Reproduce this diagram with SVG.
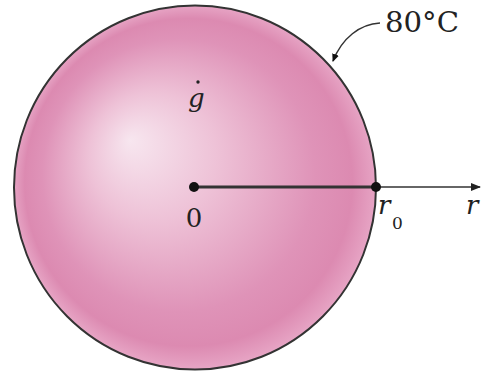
<svg xmlns="http://www.w3.org/2000/svg" width="489" height="373" viewBox="0 0 489 373">
<style>
text{font-family:'DejaVu Serif',serif;fill:#222}
.i{font-style:italic}
.c{stroke:#333;fill:none}
</style>
<defs>
<radialGradient id="sg" cx="195" cy="187" r="182" fx="130" fy="140" gradientUnits="userSpaceOnUse">
<stop offset="0" stop-color="#f7e6ef"/>
<stop offset="0.35" stop-color="#eec2d7"/>
<stop offset="0.75" stop-color="#df93b8"/>
<stop offset="0.9" stop-color="#dc8ab1"/>
<stop offset="1" stop-color="#e7a5c5"/>
</radialGradient>
<marker id="ah" markerWidth="10" markerHeight="8" refX="9" refY="4" orient="auto" markerUnits="userSpaceOnUse">
<path d="M0,0 L10,4 L0,8 z" fill="#222"/>
</marker>
<marker id="ah2" markerWidth="8" markerHeight="7" refX="7" refY="3.5" orient="auto" markerUnits="userSpaceOnUse">
<path d="M0,0 L8,3.5 L0,7 z" fill="#111"/>
</marker>
</defs>
<g id="sphere">
<ellipse cx="195" cy="187.5" rx="181" ry="182" fill="url(#sg)" stroke="#333" stroke-width="2"/>
</g>
<g id="connectors">
<line class="c" x1="194" y1="187" x2="376" y2="187" stroke-width="3"/>
<line class="c" x1="376" y1="187" x2="480" y2="187" stroke-width="1.5" marker-end="url(#ah)"/>
<path class="c" d="M380,23 C360,24 342,38 333,61" stroke-width="1.5" marker-end="url(#ah2)"/>
</g>
<g id="center">
<circle cx="194" cy="187" r="5" fill="#111"/>
<text x="194" y="227" font-size="26" text-anchor="middle">0</text>
</g>
<g id="surface">
<circle cx="376" cy="187" r="5" fill="#111"/>
<text class="i" x="378" y="214" font-size="26">r</text>
<text x="392" y="229" font-size="17">0</text>
</g>
<g id="raxis">
<text class="i" x="466" y="214" font-size="26">r</text>
</g>
<g id="gen">
<text class="i" x="188" y="107" font-size="26">g</text>
<circle cx="198" cy="82" r="1.7" fill="#222"/>
</g>
<g id="temp">
<text x="385" y="32" font-size="27" textLength="74" lengthAdjust="spacingAndGlyphs">80°C</text>
</g>
</svg>
